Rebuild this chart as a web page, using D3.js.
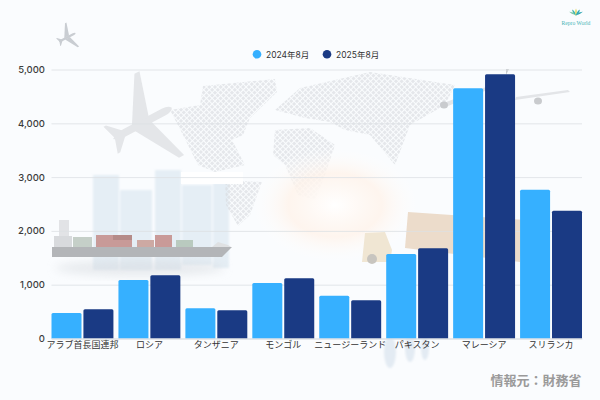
<!DOCTYPE html>
<html>
  <head>
    <meta charset="utf-8">
    <script src="https://d3js.org/d3.v7.min.js"></script>
    <style>
      html, body { margin: 0; padding: 0; background: #fafcfe; }
      svg { display: block; }
      text { font-family: "Inter", "Noto Sans CJK JP", sans-serif; }
    </style>
  </head>
  <body>
    <svg id="chart" width="600" height="400"></svg>
    <script>
      const countries = ["アラブ首長国連邦", "ロシア", "タンザニア", "モンゴル", "ニュージーランド", "パキスタン", "マレーシア", "スリランカ"];
      const seriesNames = ["2024年8月", "2025年8月"];
      const values2024 = [474, 1087, 561, 1031, 796, 1570, 4650, 2766];
      const values2025 = [543, 1175, 524, 1119, 710, 1676, 4910, 2375];
      const yTicks = [0, 1000, 2000, 3000, 4000, 5000];
      const colors = ["#36b0ff", "#1a3a84"];

      const svg = d3.select("#chart");
      const margin = {top: 69.5, right: 18, bottom: 61.5, left: 51.5};
      const width = 600, height = 400;

      // background picture, only roughly sketched
      const defs = svg.append("defs");
      const dots = defs.append("pattern").attr("id", "dots")
        .attr("width", 4).attr("height", 4)
        .attr("patternUnits", "userSpaceOnUse")
        .attr("patternTransform", "rotate(45)");
      dots.append("rect").attr("width", 3).attr("height", 3).attr("fill", "#d9dce0");
      const glow = defs.append("radialGradient").attr("id", "glow");
      glow.append("stop").attr("offset", "0%").attr("stop-color", "#fff").attr("stop-opacity", 1);
      glow.append("stop").attr("offset", "55%").attr("stop-color", "#fff3ea").attr("stop-opacity", 0.8);
      glow.append("stop").attr("offset", "100%").attr("stop-color", "#fff").attr("stop-opacity", 0);
      const blur = defs.append("filter").attr("id", "soft");
      blur.append("feGaussianBlur").attr("stdDeviation", 1);
      const blurBig = defs.append("filter").attr("id", "softer")
        .attr("x", "-30%").attr("y", "-30%").attr("width", "160%").attr("height", "160%");
      blurBig.append("feGaussianBlur").attr("stdDeviation", 5);

      const bg = svg.append("g").attr("class", "background");
      bg.append("rect").attr("width", width).attr("height", height).attr("fill", "#fafcfe");

      // buildings
      const buildings = [[93, 175, 26, 95], [120, 190, 32, 80], [155, 170, 26, 100], [182, 185, 30, 80], [213, 183, 16, 85]];
      bg.selectAll("rect.building").data(buildings).join("rect")
        .attr("class", "building")
        .attr("x", d => d[0]).attr("y", d => d[1])
        .attr("width", d => d[2]).attr("height", d => d[3])
        .attr("fill", "#dfeaf3").attr("opacity", 0.75).attr("filter", "url(#soft)");

      // world map
      const land = [
        "M203 86 L275 79 L277 92 L250 118 L243 135 L232 140 L245 165 L215 172 L198 165 L183 135 L170 110 L200 105 Z",
        "M225 180 L262 182 L250 215 L238 226 L226 205 Z",
        "M275 110 L300 88 L370 72 L455 85 L445 105 L410 125 L395 165 L370 135 L345 130 L330 122 L305 118 Z",
        "M275 130 L310 128 L335 145 L325 175 L315 200 L298 195 L285 165 L273 155 Z"
      ];
      bg.selectAll("path.land").data(land).join("path")
        .attr("class", "land").attr("d", d => d)
        .attr("fill", "url(#dots)").attr("opacity", 0.65);

      bg.append("ellipse").attr("cx", 335).attr("cy", 205).attr("rx", 85).attr("ry", 58)
        .attr("fill", "url(#glow)");
      bg.append("rect").attr("x", 181).attr("y", 172).attr("width", 62).attr("height", 12).attr("fill", "#fff");

      // planes
      function plane(x, y, s, rot, fill) {
        const g = bg.append("g")
          .attr("transform", `translate(${x},${y}) rotate(${rot}) scale(${s})`)
          .attr("fill", fill);
        g.append("path").attr("d", "M-32 0 Q-30 -4 -22 -4 L28 -4 Q36 -2 38 0 Q32 4 24 4 L-22 4 Q-30 4 -32 0 Z");
        g.append("path").attr("d", "M-6 -3 L-20 -50 L-14 -50 L14 -3 Z");
        g.append("path").attr("d", "M-6 3 L-20 50 L-14 50 L14 3 Z");
        g.append("path").attr("d", "M24 -2 L38 -16 L41 -16 L36 0 L41 16 L38 16 L24 2 Z");
        return g;
      }
      plane(145, 122, 0.95, 152, "#e4e6e9");
      plane(68, 37, 0.27, 152, "#c9cdd2");

      // big plane at the top right, mostly behind the bars
      bg.append("path").attr("d", "M441 104 L510 78 L512 80 L448 106 Z M570 92 L515 100 L516 97 L568 90 Z").attr("fill", "#e3e5e8");
      bg.append("ellipse").attr("cx", 444).attr("cy", 105).attr("rx", 4).attr("ry", 3.5).attr("fill", "#c9cbce");
      bg.append("ellipse").attr("cx", 538).attr("cy", 101).attr("rx", 4).attr("ry", 3.5).attr("fill", "#c9cbce");
      bg.append("path").attr("d", "M506 69 L509 69 L506 75 Z").attr("fill", "#c9cbce");

      // ship
      const ship = bg.append("g");
      ship.append("ellipse").attr("cx", 140).attr("cy", 268).attr("rx", 85).attr("ry", 8)
        .attr("fill", "#d5d9de").attr("opacity", 0.5).attr("filter", "url(#softer)");
      ship.append("path").attr("d", "M52 247 L232 247 L222 257 L52 257 Z").attr("fill", "#b3b5b8");
      const containers = [[73, 237, 19, 10, "#c5cfc8"], [96, 235, 36, 12, "#c89a98"], [113, 235, 19, 5, "#b58b88"], [137, 240, 17, 7, "#cda9a3"], [155, 235, 17, 12, "#c99a98"], [176, 240, 17, 7, "#b9cabf"]];
      ship.selectAll("rect.container").data(containers).join("rect")
        .attr("class", "container")
        .attr("x", d => d[0]).attr("y", d => d[1])
        .attr("width", d => d[2]).attr("height", d => d[3])
        .attr("fill", d => d[4]);
      ship.append("rect").attr("x", 54).attr("y", 236).attr("width", 18).attr("height", 11).attr("fill", "#d8dadd");
      ship.append("rect").attr("x", 59).attr("y", 220).attr("width", 10).attr("height", 16).attr("fill", "#e2e3e6");
      ship.append("path").attr("d", "M212 247 L218 242 L228 245 L231 247 Z").attr("fill", "#dfe1e3");

      // truck
      const truck = bg.append("g");
      truck.append("path").attr("d", "M408 212 L525 220 L520 262 L405 248 Z").attr("fill", "#ecdccb");
      truck.append("path").attr("d", "M365 233 L385 232 L392 250 L390 262 L362 262 Z").attr("fill", "#f0e6d3");
      truck.append("circle").attr("cx", 372).attr("cy", 259).attr("r", 5).attr("fill", "#c8c5bf");

      // people at the bottom
      const people = [[390, 352, 6, 16], [410, 348, 5, 14], [425, 348, 4, 12]];
      bg.selectAll("ellipse.person").data(people).join("ellipse")
        .attr("class", "person")
        .attr("cx", d => d[0]).attr("cy", d => d[1])
        .attr("rx", d => d[2]).attr("ry", d => d[3])
        .attr("fill", "#e3ebf3").attr("filter", "url(#soft)");

      // scales
      const x = d3.scaleBand().domain(countries)
        .range([margin.left, width - margin.right]).paddingInner(0.075);
      const xInner = d3.scaleBand().domain(seriesNames)
        .range([0, x.bandwidth()]).paddingInner(0.06);
      const y = d3.scaleLinear().domain([0, 5000])
        .range([height - margin.bottom, margin.top]);

      // grid lines
      svg.append("g")
        .attr("transform", `translate(${margin.left},0)`)
        .call(d3.axisLeft(y).tickValues(yTicks).tickSize(-(width - margin.left - margin.right)).tickFormat(""))
        .call(g => g.select(".domain").remove())
        .call(g => g.selectAll("line").attr("stroke", "#dcdfe3").attr("stroke-width", 0.8));

      // y axis labels
      svg.append("g")
        .attr("transform", `translate(${margin.left},0)`)
        .call(d3.axisLeft(y).tickValues(yTicks).tickSize(0).tickPadding(6.5))
        .call(g => g.select(".domain").remove())
        .call(g => g.selectAll("text")
          .attr("font-size", 9.5).attr("font-weight", 500).attr("fill", "#3c3c3c")
          .style("font-family", '"Inter", sans-serif'));

      // bars
      const groups = svg.append("g").selectAll("g").data(countries).join("g")
        .attr("transform", d => `translate(${x(d)},0)`);
      [values2024, values2025].forEach((vals, s) => {
        groups.append("path")
          .attr("fill", colors[s])
          .attr("d", (d, i) => {
            const x0 = xInner(seriesNames[s]);
            const w = xInner.bandwidth();
            const top = y(vals[i]);
            const r = 1.5;
            return `M${x0},${y(0)}V${top + r}Q${x0},${top} ${x0 + r},${top}H${x0 + w - r}Q${x0 + w},${top} ${x0 + w},${top + r}V${y(0)}Z`;
          });
      });

      // x axis labels
      svg.append("g")
        .attr("transform", `translate(0,${y(0)})`)
        .call(d3.axisBottom(x).tickSize(0).tickPadding(3.5))
        .call(g => g.select(".domain").attr("stroke", "#dcdfe3"))
        .call(g => g.selectAll("text")
          .attr("font-size", 9).attr("fill", "#333")
          .style("font-family", '"Noto Sans CJK JP", sans-serif'));

      // legend
      const legendX = [257, 327];
      const legend = svg.append("g").selectAll("g").data(seriesNames).join("g")
        .attr("transform", (d, i) => `translate(${legendX[i]},54.3)`);
      legend.append("circle").attr("r", 4.3).attr("fill", (d, i) => colors[i]);
      legend.append("text").attr("x", 9).attr("y", 3.3)
        .attr("font-size", 8.5).attr("fill", "#333").text(d => d);

      // source note
      svg.append("text").attr("x", 581.5).attr("y", 385).attr("text-anchor", "end")
        .attr("font-size", 13).attr("font-weight", 700).attr("fill", "#9a9a9a")
        .style("font-family", '"Noto Sans CJK JP", sans-serif')
        .text("情報元：財務省");

      // logo
      const logo = svg.append("g").attr("transform", "translate(576,14)");
      const leafs = [[-6, "#7fc8a9"], [-3, "#3fb5ad"], [0, "#e2d75a"], [3, "#2fa7b5"], [6, "#2fa7b5"]];
      logo.selectAll("path").data(leafs).join("path")
        .attr("d", "M0 2 Q-1.5 -2 0 -5 Q1.5 -2 0 2 Z")
        .attr("transform", d => `translate(${d[0] * 0.3},0) rotate(${d[0] * 11}) scale(1.1)`)
        .attr("fill", d => d[1]);
      svg.append("text").attr("x", 576).attr("y", 25).attr("text-anchor", "middle")
        .attr("font-size", 5.6).attr("fill", "#45b3b5")
        .style("font-family", '"Liberation Serif", serif')
        .text("Repro World");
    </script>
  </body>
</html>
